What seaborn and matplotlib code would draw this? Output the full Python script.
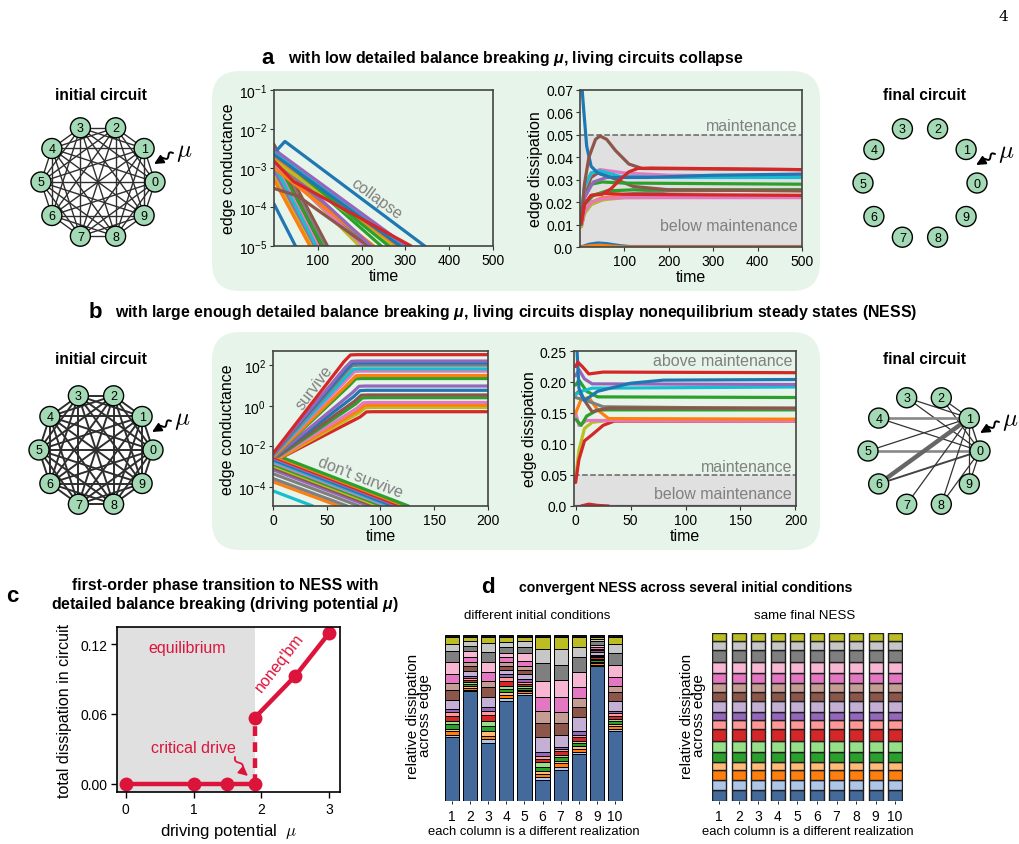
import numpy as np
import pandas as pd
import matplotlib
matplotlib.use("Agg")
import matplotlib.pyplot as plt
import seaborn as sns
from matplotlib.patches import FancyBboxPatch, Circle
from matplotlib.ticker import FixedLocator, FixedFormatter, NullLocator, FuncFormatter


# ── panel a: edge conductance (t0, g0, optional knee, time the curve leaves the axis) ──
a_cond_col = [5, 5, 7, 3, 2, 6, 1, 9, 4, 8, 1, 0, 8, 7, 6, 5, 2, 1, 4, 8, 1, 2, 6, 9, 0, 4, 3, 0]
a_cond_t0 = [0, 0, 0, 0, 0, 0, 0, 0, 0, 0, 0, 0, 0, 0, 0, 0, 0, 0, 0, 0, 0, 0, 0, 0, 0, 0, 0, 7]
a_cond_g0 = [4e-3, 3.2e-3, 2.8e-3, 2.3e-3, 1.9e-3, 1.4e-3, 1.0e-3, 1.2e-3, 8e-4, 6e-4, 5e-4, 1.2e-4,
             1.6e-3, 1.8e-3, 1.3e-3, 3e-4, 2.6e-3, 1.0e-3, 2.0e-3,
             1.6e-3, 2.0e-3, 2.4e-3, 2.8e-3, 2.5e-3, 2.2e-3, 3.0e-3, 1.5e-3, 2.9e-3]
a_cond_tmid = [None] * 15 + [55] + [None] * 10 + [45, 25]
a_cond_gmid = [None] * 15 + [1.9e-4] + [None] * 10 + [4.5e-4, 4.8e-3]
a_cond_tend = [122, 118, 115, 108, 110, 100, 92, 96, 88, 85, 82, 49,
               195, 212, 205, 215, 245, 228, 222,
               272, 282, 262, 300, 292, 288, 302, 313, 344]
a_cond_floor = 1e-5

# ── panel a: edge dissipation ──
a_diss_col = [4, 0, 1, 7, 8, 1, 6, 3, 2, 5, 2, 4, 6, 9, 0, 5, 3]
a_diss_t = [[0, 500], [3, 20, 40, 60, 90, 120, 500], [3, 25, 45, 70, 100, 500],
            [3, 10, 25, 50, 100, 200, 500], [3, 10, 25, 50, 100, 500], [3, 10, 25, 50, 100, 500],
            [3, 10, 25, 50, 100, 500], [3, 10, 25, 50, 100, 500], [3, 10, 30, 60, 120, 500],
            [3, 10, 25, 40, 70, 120, 200, 500], [3, 10, 25, 50, 100, 500], [3, 10, 30, 60, 120, 500],
            [3, 10, 25, 45, 100, 200, 500], [3, 10, 25, 45, 90, 200, 500],
            [1, 8, 15, 25, 40, 70, 150, 300, 500],
            [3, 10, 20, 35, 45, 60, 80, 110, 140, 500],
            [3, 10, 25, 50, 70, 90, 110, 130, 160, 500]]
a_diss_y = [[0.0003, 0.0003], [0.0, 0.0012, 0.0018, 0.0015, 0.0006, 0.0, 0.0],
            [0.0, 0.0006, 0.0008, 0.0004, 0.0, 0.0],
            [0.009, 0.015, 0.019, 0.021, 0.0235, 0.025, 0.0255],
            [0.009, 0.015, 0.019, 0.021, 0.022, 0.0225],
            [0.010, 0.016, 0.020, 0.022, 0.023, 0.023],
            [0.010, 0.016, 0.020, 0.0215, 0.022, 0.022],
            [0.011, 0.019, 0.023, 0.024, 0.0235, 0.023],
            [0.012, 0.019, 0.023, 0.025, 0.0255, 0.0255],
            [0.012, 0.024, 0.031, 0.033, 0.031, 0.027, 0.0255, 0.025],
            [0.012, 0.022, 0.028, 0.029, 0.0285, 0.028],
            [0.012, 0.022, 0.029, 0.031, 0.0315, 0.032],
            [0.014, 0.026, 0.033, 0.0345, 0.033, 0.032, 0.0315],
            [0.015, 0.027, 0.033, 0.034, 0.0315, 0.031, 0.031],
            [0.08, 0.062, 0.045, 0.036, 0.033, 0.031, 0.031, 0.032, 0.0325],
            [0.010, 0.028, 0.040, 0.048, 0.0495, 0.048, 0.043, 0.037, 0.035, 0.0345],
            [0.011, 0.019, 0.023, 0.0235, 0.026, 0.030, 0.0335, 0.035, 0.0352, 0.0345]]

# ── panel b: edge conductance (surviving edges: start, knee, plateau) ──
b_surv_col = [3, 4, 0, 7, 9, 6, 1, 2, 4, 0, 5, 2, 6, 1, 8, 3]
b_surv_t0 = [0, 0, 0, 1, 1, 1, 2, 2, 3, 3, 4, 5, 6, 7, 8, 9]
b_surv_g0 = [4.5e-3, 4.3e-3, 4.2e-3, 4.0e-3, 3.9e-3, 3.8e-3, 3.7e-3, 3.6e-3,
             3.5e-3, 3.4e-3, 3.3e-3, 3.2e-3, 3.1e-3, 3.0e-3, 3.0e-3, 3.0e-3]
b_surv_tk = [72, 73, 74, 74, 75, 76, 77, 77, 80, 81, 82, 83, 84, 85, 86, 87]
b_surv_plat = [330, 160, 130, 100, 66, 51, 31, 22, 9.4, 5.8, 3.4, 2.5, 1.45, 1.08, 0.83, 0.51]
# values a few steps either side of each knee, where the curve bends
b_surv_gpre = [150, 75, 60, 45, 30, 23, 14, 10, 4.5, 2.8, 1.7, 1.25, 0.75, 0.56, 0.44, 0.28]
b_surv_gpost = [320, 155, 126, 97, 64, 49.5, 30, 21.3, 9.1, 5.6, 3.3, 2.42, 1.4, 1.05, 0.8, 0.5]
b_die_col = [2, 1, 3, 4, 0, 9, 6, 2, 8, 5, 4, 7, 7, 1, 9]
b_die_g0 = [4.2e-3, 3.6e-3, 3.1e-3, 2.6e-3, 2.2e-3, 1.9e-3, 1.6e-3, 1.3e-3,
            1.1e-3, 9e-4, 7e-4, 4.5e-4, 2.6e-4, 1.8e-4, 6.4e-5]
b_die_tend = [126, 123, 119, 116, 112, 109, 106, 102, 98, 94, 89, 80, 69, 61, 37]
b_cond_floor = 1.15e-5

# ── panel b: edge dissipation ──
b_diss_col = [4, 3, 8, 3, 6, 1, 2, 7, 5, 2, 9, 4, 0, 3]
b_diss_t = [[0, 200], [5, 12, 20, 30],
            [0, 3, 8, 15, 30, 200], [0, 3, 8, 15, 25, 35, 200],
            [0, 3, 10, 200], [0, 5, 12, 20, 30, 200], [0, 5, 10, 20, 200],
            [0, 10, 25, 200], [0, 3, 10, 15, 30, 200], [0, 3, 10, 20, 200],
            [0, 5, 15, 200], [0, 3, 8, 15, 200],
            [1, 3, 8, 20, 50, 80, 200], [0, 2, 6, 12, 25, 200]]
b_diss_y = [[0.0005, 0.0005], [0.0, 0.003, 0.001, 0.0],
            [0.045, 0.09, 0.125, 0.135, 0.138, 0.138],
            [0.038, 0.075, 0.105, 0.115, 0.130, 0.137, 0.137],
            [0.150, 0.130, 0.138, 0.137], [0.150, 0.172, 0.175, 0.155, 0.141, 0.140],
            [0.140, 0.130, 0.145, 0.155, 0.155], [0.175, 0.170, 0.160, 0.157],
            [0.180, 0.185, 0.165, 0.152, 0.158, 0.158], [0.195, 0.203, 0.185, 0.176, 0.175],
            [0.180, 0.185, 0.190, 0.192], [0.210, 0.220, 0.205, 0.197, 0.196],
            [0.26, 0.19, 0.170, 0.185, 0.198, 0.203, 0.204],
            [0.225, 0.232, 0.225, 0.213, 0.216, 0.215]]

# ── panel c: phase transition ──
c_eq_mu = [0, 1, 1.5, 1.9]
c_eq_diss = [0.0, 0.0, 0.0, 0.0]
c_neq_mu = [1.9, 2.5, 3.0]
c_neq_diss = [0.0566, 0.0926, 0.1294]

# ── panel d: relative dissipation per edge (bottom to top, tab20 order, last = rest) ──
d_realization = [1, 2, 3, 4, 5, 6, 7, 8, 9, 10]
d_init_shares = [
    [.384, .015, .02, .015, .03, .02, .025, .025, .021, .054, .056, .044, .056, .07, .066, .044, .04, .014],
    [.655, .008, .01, .01, .012, .012, .014, .012, .012, .03, .03, .026, .028, .036, .03, .03, .02, .014],
    [.347, .026, .02, .026, .03, .034, .036, .02, .024, .064, .056, .036, .054, .06, .06, .054, .036, .014],
    [.604, .016, .02, .014, .02, .02, .03, .02, .02, .024, .026, .024, .026, .024, .036, .03, .03, .014],
    [.639, .01, .01, .01, .012, .012, .014, .012, .016, .03, .026, .024, .03, .044, .04, .032, .024, .014],
    [.127, .02, .016, .02, .024, .026, .02, .02, .02, .09, .084, .072, .084, .096, .108, .086, .074, .01],
    [.189, .014, .024, .016, .02, .016, .02, .014, .014, .072, .068, .066, .094, .1, .092, .094, .074, .01],
    [.283, .014, .016, .016, .018, .016, .02, .016, .02, .084, .06, .056, .064, .09, .09, .064, .056, .014],
    [.795, .008, .008, .008, .01, .008, .01, .008, .008, .012, .012, .01, .012, .012, .02, .015, .01, .012],
    [.419, .012, .016, .014, .018, .014, .018, .014, .013, .06, .052, .04, .054, .07, .07, .054, .042, .014],
]
d_final_shares = [.064, .062, .058, .046, .06, .07, .066, .054, .05, .064, .056, .05, .06, .066, .074, .054, .046]

# ── circuits ──
init_edges = [(i, j) for i in range(10) for j in range(i + 1, 10)]
final_b_edges = [(0, 1), (0, 2), (0, 3), (0, 4), (0, 5), (0, 6), (0, 8), (0, 9),
                 (1, 2), (1, 3), (1, 4), (1, 5), (1, 6), (1, 7), (1, 8), (1, 9)]
final_b_widths = [1.0, 0.9, 0.9, 0.9, 1.9, 1.4, 0.9, 0.9, 0.9, 0.9, 1.9, 0.9, 3.2, 0.9, 0.9, 0.9]
final_b_grays = ['#333', '#333', '#333', '#333', '#888', '#444', '#333', '#333',
                 '#333', '#333', '#888', '#333', '#666', '#333', '#333', '#333']

# ── style ──
sns.set_theme(style="ticks")
plt.rcParams['font.family'] = ['Liberation Sans', 'DejaVu Sans']
plt.rcParams['mathtext.fontset'] = 'custom'
plt.rcParams['mathtext.rm'] = 'Liberation Sans'
plt.rcParams['mathtext.it'] = 'Liberation Sans:italic'
plt.rcParams['mathtext.bf'] = 'Liberation Sans:bold'
try:
    plt.rcParams['mathtext.bfit'] = 'Liberation Sans:italic:bold'
    MU_B = r"$\mathbfit{\mu}$"
except KeyError:
    MU_B = "μ"
plt.rcParams['mathtext.default'] = 'regular'
for key in ('text.color', 'axes.labelcolor', 'xtick.color', 'ytick.color'):
    plt.rcParams[key] = 'black'
MU_CM = r"$\mathit{\mu}$"

TAB = sns.color_palette("tab10")
TAB20 = sns.color_palette("tab20")
BAR_COLORS = ['#436a9a'] + list(TAB20[1:17]) + ['#111111']
BOX_GREEN = '#e7f4e9'
SHADE = '#e0e0e0'
CRIMSON = '#dc143c'
NODE_GREEN = '#a3d9b5'
W, H = 1020, 845


def px(l, t, r, b):
    return [l / W, 1 - b / H, (r - l) / W, (b - t) / H]


def draw_curves(ax, ts, ys, cols, lw=2.3):
    rows = []
    for k, (t, y) in enumerate(zip(ts, ys)):
        rows += [{"curve": k, "t": tv, "y": yv} for tv, yv in zip(t, y)]
    df = pd.DataFrame(rows)
    pal = {k: TAB[c] for k, c in enumerate(cols)}
    sns.lineplot(data=df, x="t", y="y", hue="curve", palette=pal, estimator=None,
                 sort=False, legend=False, lw=lw, ax=ax)


def style_axes(ax, tick_size=10):
    ax.set_facecolor('none')
    for sp in ax.spines.values():
        sp.set_color('#444444')
        sp.set_linewidth(1.2)
        sp.set_visible(True)
    ax.tick_params(labelsize=tick_size, length=3, width=0.8, color='#333', pad=2)


def squiggle(ax, tail, head, color='black', amp=2.0, waves=1.5, lw=1.4):
    tail = np.asarray(tail, float)
    head = np.asarray(head, float)
    d = head - tail
    n = np.array([-d[1], d[0]]) / np.hypot(*d)
    s = np.linspace(0, 0.72, 40)
    pts = tail + np.outer(s, d) + np.outer(amp * np.sin(2 * np.pi * waves * s / 0.72), n)
    ax.plot(pts[:, 0], pts[:, 1], color=color, lw=lw, solid_capstyle='round')
    ax.annotate('', xy=head, xytext=pts[-1],
                arrowprops=dict(arrowstyle='-|>,head_length=0.45,head_width=0.22',
                                color=color, lw=lw, shrinkA=0, shrinkB=0))


def circuit(ax, cx, cy, edges=(), widths=None, grays=None, R=57, r=10):
    ang = 2 * np.pi * np.arange(10) / 10
    xs, ys = cx + R * np.cos(ang), cy - R * np.sin(ang)
    for k, (i, j) in enumerate(edges):
        w = widths[k] if widths is not None else 1.0
        c = grays[k] if grays is not None else '#2e2e2e'
        ax.plot([xs[i], xs[j]], [ys[i], ys[j]], color=c, lw=w, zorder=2)
    for k in range(10):
        ax.add_patch(Circle((xs[k], ys[k]), r, fc=NODE_GREEN, ec='black', lw=1.0, zorder=3))
        ax.text(xs[k], ys[k] + 0.5, str(k), ha='center', va='center', fontsize=9, zorder=4)
    squiggle(ax, (cx + 75, cy - 29), (cx + 56, cy - 18))
    ax.text(cx + 78, cy - 31, MU_CM, math_fontfamily='cm', fontsize=18,
            ha='left', va='center')


fig = plt.figure(figsize=(10.2, 8.45), dpi=100)

canvas = fig.add_axes([0, 0, 1, 1], zorder=0)
canvas.set_xlim(0, W)
canvas.set_ylim(H, 0)
canvas.axis('off')
for top, hgt in [(72, 220), (333, 218)]:
    canvas.add_patch(FancyBboxPatch((212, top), 608, hgt,
                                    boxstyle="round,pad=0,rounding_size=28",
                                    fc=BOX_GREEN, ec='none'))

# ── a: conductance ──
ax = fig.add_axes(px(274, 91, 493, 247), zorder=2)
ts, ys = [], []
for t0, g0, tm, gm, te in zip(a_cond_t0, a_cond_g0, a_cond_tmid, a_cond_gmid, a_cond_tend):
    t, y = [t0], [g0]
    if tm is not None:
        t.append(tm)
        y.append(gm)
    ts.append(t + [te])
    ys.append(y + [a_cond_floor])
draw_curves(ax, ts, ys, a_cond_col)
ax.set_yscale('log')
ax.set_xlim(0, 500)
ax.set_ylim(a_cond_floor, 1e-1)
ax.xaxis.set_major_locator(FixedLocator([100, 200, 300, 400, 500]))
ax.yaxis.set_major_locator(FixedLocator([1e-5, 1e-4, 1e-3, 1e-2, 1e-1]))
ax.yaxis.set_minor_locator(NullLocator())
ax.yaxis.set_major_formatter(FuncFormatter(lambda v, p: r"$10^{%d}$" % round(np.log10(v))))
style_axes(ax)
ax.set_xlabel("time", fontsize=11.5, labelpad=1)
ax.set_ylabel("edge conductance", fontsize=11.5, labelpad=2)
ax.text(235, 1.7e-4, "collapse", rotation=-36, color='#808080', fontsize=11.5,
        ha='center', va='center')

# ── a: dissipation ──
ax = fig.add_axes(px(580, 91, 802, 248), zorder=2)
ax.axhspan(0, 0.05, color=SHADE, lw=0)
ax.axhline(0.05, color='#666666', ls='--', lw=1.1)
draw_curves(ax, a_diss_t, a_diss_y, a_diss_col)
ax.set_xlim(0, 500)
ax.set_ylim(0, 0.07)
ax.xaxis.set_major_locator(FixedLocator([100, 200, 300, 400, 500]))
ax.yaxis.set_major_locator(FixedLocator([0, 0.01, 0.02, 0.03, 0.04, 0.05, 0.06, 0.07]))
ax.yaxis.set_major_formatter(FixedFormatter(['0.0', '0.01', '0.02', '0.03', '0.04', '0.05', '0.06', '0.07']))
style_axes(ax)
ax.set_xlabel("time", fontsize=11.5, labelpad=1)
ax.set_ylabel("edge dissipation", fontsize=11.5, labelpad=2)
ax.text(490, 0.054, "maintenance", color='#808080', fontsize=11.5, ha='right', va='center')
ax.text(490, 0.0095, "below maintenance", color='#808080', fontsize=11.5, ha='right', va='center')

# ── b: conductance ──
ax = fig.add_axes(px(273, 352, 488, 507), zorder=2)
ts = [[t0, tk - 6, tk, tk + 6, 200] for t0, tk in zip(b_surv_t0, b_surv_tk)]
ys = [[g0, gq, gr, gp, gp] for g0, gq, gr, gp in
      zip(b_surv_g0, b_surv_gpre, b_surv_gpost, b_surv_plat)]
ts += [[0, te] for te in b_die_tend]
ys += [[g0, b_cond_floor] for g0 in b_die_g0]
draw_curves(ax, ts[::-1], ys[::-1], (b_surv_col + b_die_col)[::-1])
ax.set_yscale('log')
ax.set_xlim(0, 200)
ax.set_ylim(b_cond_floor, 5e2)
ax.xaxis.set_major_locator(FixedLocator([0, 50, 100, 150, 200]))
ax.yaxis.set_major_locator(FixedLocator([1e-4, 1e-2, 1e0, 1e2]))
ax.yaxis.set_minor_locator(NullLocator())
ax.yaxis.set_major_formatter(FuncFormatter(lambda v, p: r"$10^{%d}$" % round(np.log10(v))))
style_axes(ax)
ax.set_xlabel("time", fontsize=11.5, labelpad=1)
ax.set_ylabel("edge conductance", fontsize=11.5, labelpad=2)
ax.text(38, 8, "survive", rotation=53, color='#808080', fontsize=11.5, ha='center', va='center')
ax.text(81, 3.3e-4, "don't survive", rotation=-21, color='#808080', fontsize=11.5,
        ha='center', va='center')

# ── b: dissipation ──
ax = fig.add_axes(px(574, 352, 796, 507), zorder=2)
ax.axhspan(0, 0.05, color=SHADE, lw=0)
ax.axhline(0.05, color='#666666', ls='--', lw=1.1)
draw_curves(ax, b_diss_t, b_diss_y, b_diss_col)
ax.set_xlim(-1.5, 200.5)
ax.set_ylim(0, 0.25)
ax.xaxis.set_major_locator(FixedLocator([0, 50, 100, 150, 200]))
ax.yaxis.set_major_locator(FixedLocator([0, 0.05, 0.10, 0.15, 0.20, 0.25]))
ax.yaxis.set_major_formatter(FixedFormatter(['0.0', '0.05', '0.10', '0.15', '0.20', '0.25']))
style_axes(ax)
ax.set_xlabel("time", fontsize=11.5, labelpad=1)
ax.set_ylabel("edge dissipation", fontsize=11.5, labelpad=2)
ax.text(197, 0.234, "above maintenance", color='#808080', fontsize=11.5, ha='right', va='center')
ax.text(197, 0.063, "maintenance", color='#808080', fontsize=11.5, ha='right', va='center')
ax.text(197, 0.02, "below maintenance", color='#808080', fontsize=11.5, ha='right', va='center')

# ── c: phase transition ──
ax = fig.add_axes(px(117, 628, 340, 793), zorder=2)
ax.axvspan(-0.2, c_eq_mu[-1], color=SHADE, lw=0)
ax.plot([c_eq_mu[-1], c_neq_mu[0]], [c_eq_diss[-1], c_neq_diss[0]], color=CRIMSON,
        lw=3.2, ls=(0, (2.2, 1.4)))
for mu, dis in [(c_eq_mu, c_eq_diss), (c_neq_mu, c_neq_diss)]:
    sns.lineplot(x=mu, y=dis, color=CRIMSON, lw=3.2, marker='o', markersize=10,
                 markeredgewidth=0, ax=ax)
ax.set_xlim(-0.13, 3.16)
ax.set_ylim(-0.0069, 0.1346)
ax.set_xticks([0, 1, 2, 3])
ax.set_yticks([0.0, 0.06, 0.12])
ax.set_yticklabels(['0.00', '0.06', '0.12'])
for sp in ax.spines.values():
    sp.set_color('black')
    sp.set_linewidth(1.2)
ax.tick_params(labelsize=10, length=4, width=1.0, pad=3)
ax.set_xlabel("driving potential  " + MU_CM, fontsize=12, math_fontfamily='cm', labelpad=4)
ax.set_ylabel("total dissipation in circuit", fontsize=11.5, labelpad=6)
ax.text(0.9, 0.117, "equilibrium", color=CRIMSON, fontsize=11.5, ha='center', va='center')
ax.text(2.27, 0.105, "noneq'bm", color=CRIMSON, fontsize=11.5, rotation=52,
        ha='center', va='center')
ax.text(1.0, 0.031, "critical drive", color=CRIMSON, fontsize=11.5, ha='center', va='center')

# ── d: stacked bars ──
ax_l = fig.add_axes(px(444, 636, 623, 802), zorder=2)
ax_r = fig.add_axes(px(712, 634, 903, 802), zorder=2)
init = np.array(d_init_shares)
init = init / init.sum(axis=1, keepdims=True)
final = np.tile(np.array(d_final_shares) / np.sum(d_final_shares), (len(d_realization), 1))
for axd, shares, width, ec, lw in [(ax_l, init, 0.78, 'black', 0.7),
                                   (ax_r, final, 0.72, '#1e1e1e', 1.0)]:
    bottom = np.zeros(len(d_realization))
    for k in range(shares.shape[1]):
        axd.bar(d_realization, shares[:, k], width, bottom=bottom, color=BAR_COLORS[k],
                edgecolor=ec, lw=lw)
        bottom += shares[:, k]
    axd.set_ylim(0, 1.0)
    axd.set_yticks([])
    axd.set_xticks(d_realization)
    axd.tick_params(axis='x', labelsize=10, length=2, width=0.6, pad=4)
    for sp in axd.spines.values():
        sp.set_visible(False)
    axd.set_facecolor('none')
    axd.set_xlabel("each column is a different realization", fontsize=9.4, labelpad=1)
ax_l.set_xlim(0.55, 10.45)
ax_r.set_xlim(0.63, 10.4)

# ── overlay: circuits, titles, annotations ──
ov = fig.add_axes([0, 0, 1, 1], zorder=5)
ov.set_xlim(0, W)
ov.set_ylim(H, 0)
ov.axis('off')

circuit(ov, 98, 183, init_edges)
circuit(ov, 96, 451, init_edges, widths=[1.4] * len(init_edges))
circuit(ov, 920, 184)
circuit(ov, 924, 452, final_b_edges, final_b_widths, final_b_grays, R=56)
for x, y, s in [(101, 95, "initial circuit"), (925, 95, "final circuit"),
                (101, 360, "initial circuit"), (925, 360, "final circuit")]:
    ov.text(x, y, s, fontsize=11.2, weight='bold', ha='center', va='center')

ov.text(1003, 17, "4", family='DejaVu Serif', fontsize=11, ha='center', va='center')
ov.text(268, 58, "a", fontsize=16, weight='bold', ha='center', va='center')
ov.text(288, 58, "with low detailed balance breaking " + MU_B + ", living circuits collapse",
        fontsize=11.4, weight='bold', ha='left', va='center')
ov.text(95, 313, "b", fontsize=16, weight='bold', ha='center', va='center')
ov.text(115, 313, "with large enough detailed balance breaking " + MU_B
        + ", living circuits display nonequilibrium steady states (NESS)",
        fontsize=11.4, weight='bold', ha='left', va='center')
ov.text(12, 597, "c", fontsize=16, weight='bold', ha='center', va='center')
ov.text(225, 596, "first-order phase transition to NESS with\ndetailed balance breaking (driving potential "
        + MU_B + ")", fontsize=11.4, weight='bold', ha='center', va='center', linespacing=1.1)
ov.text(488, 588, "d", fontsize=16, weight='bold', ha='center', va='center')
ov.text(519, 588, "convergent NESS across several initial conditions", fontsize=10.1,
        weight='bold', ha='left', va='center')
ov.text(537, 616, "different initial conditions", fontsize=9.6, ha='center', va='center')
ov.text(805, 616, "same final NESS", fontsize=9.6, ha='center', va='center')
for x in (419, 693):
    ov.text(x, 716, "relative dissipation\nacross edge", fontsize=11, rotation=90,
            ha='center', va='center', linespacing=0.85)
squiggle(ov, (235, 758), (248, 777), color=CRIMSON, amp=1.8, waves=1.2, lw=1.3)

fig.savefig("out.png", dpi=100)
